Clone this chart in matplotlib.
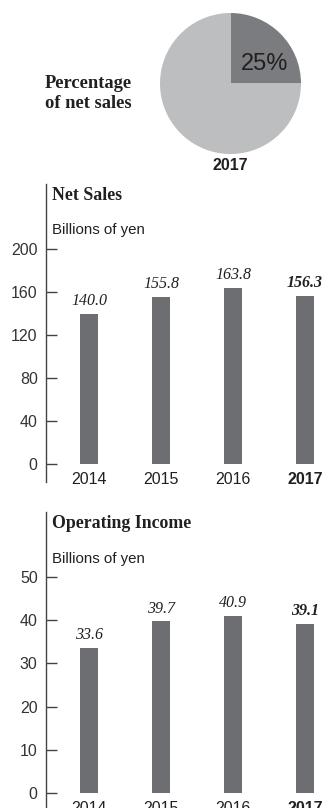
import matplotlib
matplotlib.use("Agg")
import matplotlib.pyplot as plt

W, H = 324, 808

years = ["2014", "2015", "2016", "2017"]
net_sales = [140.0, 155.8, 163.8, 156.3]
op_income = [33.6, 39.7, 40.9, 39.1]
share_2017 = [25, 75]
ns_ticks = [0, 40, 80, 120, 160, 200]
oi_ticks = [0, 10, 20, 30, 40, 50]

bar_color = "#6d6e71"
pie_dark = "#7b7c7f"
pie_light = "#bcbec0"
text_color = "#231f20"
sans = "Liberation Sans"
serif = "Liberation Serif"

fig = plt.figure(figsize=(W / 100, H / 100), dpi=100)


def px_axes(left, top, right, bottom):
    # pixel box -> figure fraction
    return fig.add_axes([left / W, 1 - bottom / H, (right - left) / W, (bottom - top) / H])


def fy(y):
    return 1 - y / H


# Pie of share of net sales
pax = px_axes(160, 13, 301, 154)
pax.pie(share_2017, colors=[pie_dark, pie_light], startangle=90, counterclock=False,
        wedgeprops=dict(linewidth=0))
pax.set_xlim(-1, 1)
pax.set_ylim(-1, 1)
pax.text(0.49, 0.28, "25%", ha="center", va="center", fontsize=17,
         family=sans, color=text_color)
fig.text(230 / W, fy(166), "2017", ha="center", va="center", fontsize=11.5,
         fontweight="bold", family=sans, color=text_color)
fig.text(45 / W, fy(88), "Percentage", ha="left", va="baseline", fontsize=13.3,
         fontweight="bold", family=serif, color=text_color)
fig.text(45 / W, fy(108), "of net sales", ha="left", va="baseline", fontsize=13.3,
         fontweight="bold", family=serif, color=text_color)


def bar_panel(ax, values, ticks, ylim, title, title_y, unit_y):
    x = range(len(values))
    ax.bar(x, values, width=0.25, color=bar_color)
    ax.set_xlim(-0.597, 3.264)
    ax.set_ylim(*ylim)
    for s in ["top", "right", "bottom"]:
        ax.spines[s].set_visible(False)
    ax.spines["left"].set_color("#444444")
    ax.spines["left"].set_linewidth(1)
    ax.set_yticks(ticks)
    ax.set_yticklabels([str(t) for t in ticks], family=sans, fontsize=11.5, color="#333333")
    ax.tick_params(axis="y", direction="in", length=8, width=1, color="#444444", pad=6)
    ax.set_xticks([])
    ax.patch.set_alpha(0)
    for i, v in enumerate(values):
        last = i == len(values) - 1
        ax.annotate(f"{v:.1f}", (i, v), xytext=(0, 3.5), textcoords="offset points",
                    ha="center", va="bottom", fontsize=11.5, style="italic", family=serif,
                    fontweight="bold" if last else "normal", color=text_color)
        ax.annotate(years[i], (i, 0), xytext=(0, -6), textcoords="offset points",
                    ha="center", va="top", fontsize=11.5, family=sans,
                    fontweight="bold" if last else "normal", color=text_color,
                    annotation_clip=False)
    fig.text(52 / W, fy(title_y), title, ha="left", va="baseline", fontsize=12.8,
             fontweight="bold", family=serif, color=text_color)
    fig.text(52 / W, fy(unit_y), "Billions of yen", ha="left", va="baseline",
             fontsize=10.8, family=sans, color=text_color)


# Net sales: 0 at y=464, 200 at y=249
ax1 = px_axes(46, 184, 324, 482)
s1 = (464 - 249) / 200
bar_panel(ax1, net_sales, ns_ticks, (-(482 - 464) / s1, (464 - 184) / s1),
          "Net Sales", 200, 234)

# Operating income: 0 at y=793, 50 at y=577
ax2 = px_axes(46, 512, 324, 808)
s2 = (793 - 577) / 50
bar_panel(ax2, op_income, oi_ticks, (-(808 - 793) / s2, (793 - 512) / s2),
          "Operating Income", 528, 563)

fig.savefig("out.png", dpi=100)
